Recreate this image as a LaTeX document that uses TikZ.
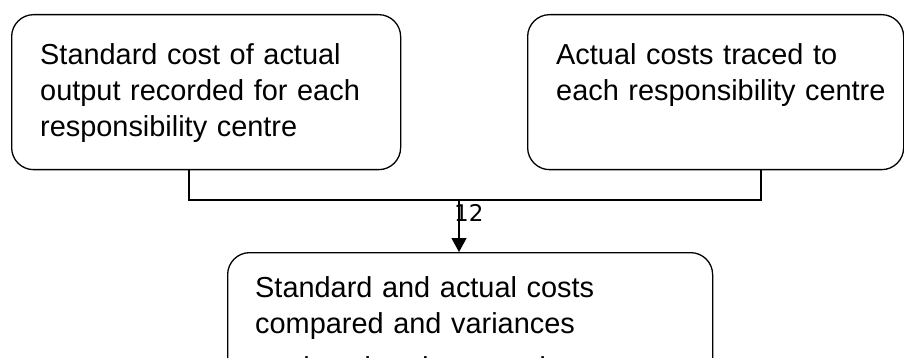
\documentclass[tikz,border=0pt]{standalone}
\usepackage{fontspec}
\setmainfont{Liberation Sans}
\newfontfamily\labelfont{DejaVu Sans}
\usetikzlibrary{arrows.meta}
\begin{document}
\begin{tikzpicture}[x=1pt,y=-1pt,
  card/.style={draw=black, line width=1.3pt, rounded corners=22pt,
    inner sep=0pt, anchor=north west},
  cardtext/.style={anchor=base west, inner sep=0pt, align=left,
    text width=#1, font=\fontsize{28.9}{36}\selectfont},
  link/.style={draw=black, line width=1.3pt},
  flowarrow/.style={link, -{Triangle[length=14pt,width=15pt]}}]
\useasboundingbox (0,0) rectangle (904,358);
\clip (0,0) rectangle (904,358);

% upper boxes
\node[card, minimum width=389pt, minimum height=155pt] (std) at (11,14) {};
\node[cardtext=350pt] (stdtxt) at (40,65)
  {Standard cost of actual\\output recorded for each\\responsibility centre};

\node[card, minimum width=376pt, minimum height=155pt] (act) at (527,14) {};
\node[cardtext=340pt] (acttxt) at (556,65)
  {Actual costs traced to\\each responsibility centre};

% lower box (runs past the lower edge)
\node[card, minimum width=485pt, minimum height=200pt] (cmp) at (227,252) {};
\node[cardtext=440pt] (cmptxt) at (255,297)
  {Standard and actual costs\\compared and variances\\[8pt]analysed and reported};

% joining lines
\coordinate (jl) at (189,200);
\coordinate (jr) at (761,200);
\coordinate (jm) at (459,200);
\draw[link] (std.south -| jl) -- (jl) -- (jr) -- (act.south -| jr);
\draw[flowarrow] (jm) -- (cmp.north -| jm);
\node[anchor=base west, inner sep=0pt, font=\labelfont\fontsize{23}{26}\selectfont]
  (num) at (454,221) {12};
\end{tikzpicture}
\end{document}
